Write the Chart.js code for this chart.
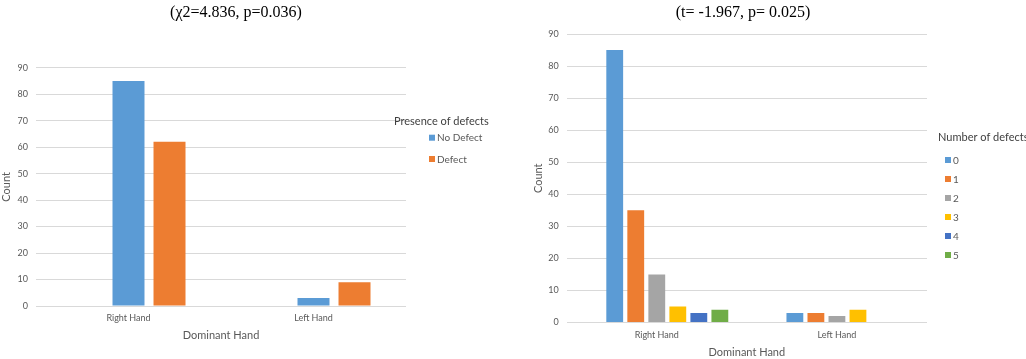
<!DOCTYPE html>
<html>
<head>
<meta charset="utf-8">
<script src="https://cdn.jsdelivr.net/npm/chart.js@4.4.0/dist/chart.umd.min.js"></script>
<style>
  body { margin: 0; background: #fff; }
  canvas { position: absolute; top: 0; }
  #left { left: 0; }
  #right { left: 520px; }
</style>
</head>
<body>
<canvas id="left" width="510" height="359"></canvas>
<canvas id="right" width="506" height="359"></canvas>
<script>
// shared categories
const hands = ['Right Hand', 'Left Hand'];

// left chart: presence of defects
const noDefect = [85, 3];
const withDefect = [62, 9];

// right chart: number of defects
const defects0 = [85, 3];
const defects1 = [35, 3];
const defects2 = [15, 2];
const defects3 = [5, 4];
const defects4 = [3, 0];
const defects5 = [4, 0];

const gray = '#595959';
const gridColor = '#D9D9D9';

// title + side legend, drawn on the canvas
const decor = {
  id: 'decor',
  afterDraw(chart, args, o) {
    const ctx = chart.ctx;
    ctx.save();
    ctx.textBaseline = 'middle';
    ctx.textAlign = 'center';
    ctx.fillStyle = '#000';
    ctx.font = '16px "Liberation Serif"';
    ctx.fillText(o.title, o.titleX, o.titleY);

    ctx.textAlign = 'left';
    ctx.fillStyle = '#404040';
    ctx.font = '11px Lato';
    ctx.fillText(o.legendTitle, o.legendX, o.legendY);
    let y = o.legendY + o.firstGap;
    chart.data.datasets.forEach(ds => {
      if (!ds.label) return;
      ctx.fillStyle = ds.backgroundColor;
      ctx.fillRect(o.legendX + o.indent, y - 3, 6, 6);
      ctx.fillStyle = gray;
      ctx.font = '10px Lato';
      ctx.fillText(ds.label, o.legendX + o.indent + 8, y + 0.5);
      y += o.step;
    });
    ctx.restore();
  }
};

function scales(yWidth, xHeight, countPad, handPad) {
  return {
    x: {
      grid: { display: false, drawTicks: false },
      border: { display: false },
      ticks: { color: gray, font: { family: 'Lato', size: 9 }, padding: 7 },
      title: { display: true, text: 'Dominant Hand', color: gray,
               font: { family: 'Lato', size: 11 }, padding: { top: 0, bottom: handPad } },
      afterFit: s => { s.height = xHeight; }
    },
    y: {
      min: 0, max: 90,
      ticks: { stepSize: 10, color: gray, font: { family: 'Lato', size: 9 }, padding: 8 },
      grid: { color: gridColor, drawTicks: false },
      border: { display: false },
      title: { display: true, text: 'Count', color: gray,
               font: { family: 'Lato', size: 11 }, padding: { top: countPad, bottom: 0 } },
      afterFit: s => { s.width = yWidth; }
    }
  };
}

new Chart(document.getElementById('left').getContext('2d'), {
  type: 'bar',
  data: {
    labels: hands,
    datasets: [
      { label: '', data: [null, null] },
      { label: 'No Defect', data: noDefect, backgroundColor: '#5B9BD5' },
      { label: 'Defect', data: withDefect, backgroundColor: '#ED7D31' }
    ]
  },
  options: {
    responsive: false,
    animation: false,
    categoryPercentage: 0.665,
    barPercentage: 0.78,
    layout: { padding: { top: 67.7, right: 104, left: 0, bottom: 0 } },
    scales: scales(36, 53, 0, 16.7),
    plugins: {
      legend: { display: false },
      tooltip: { enabled: false },
      decor: {
        title: '(\u03c72=4.836, p=0.036)', titleX: 236, titleY: 12.5,
        legendTitle: 'Presence of defects', legendX: 394, legendY: 121,
        indent: 35, firstGap: 16.7, step: 21.3
      }
    }
  },
  plugins: [decor]
});

new Chart(document.getElementById('right').getContext('2d'), {
  type: 'bar',
  data: {
    labels: hands,
    datasets: [
      { label: '', data: [null, null] },
      { label: '0', data: defects0, backgroundColor: '#5B9BD5' },
      { label: '1', data: defects1, backgroundColor: '#ED7D31' },
      { label: '2', data: defects2, backgroundColor: '#A5A5A5' },
      { label: '3', data: defects3, backgroundColor: '#FFC000' },
      { label: '4', data: defects4, backgroundColor: '#4472C4' },
      { label: '5', data: defects5, backgroundColor: '#70AD47' }
    ]
  },
  options: {
    responsive: false,
    animation: false,
    categoryPercentage: 0.817,
    barPercentage: 0.8,
    layout: { padding: { top: 34, right: 99, left: 0, bottom: 0 } },
    scales: scales(46.7, 36.5, 11.4, 0.4),
    plugins: {
      legend: { display: false },
      tooltip: { enabled: false },
      decor: {
        title: '(t= -1.967, p= 0.025)', titleX: 223, titleY: 13,
        legendTitle: 'Number of defects', legendX: 418, legendY: 137,
        indent: 7, firstGap: 23, step: 19
      }
    }
  },
  plugins: [decor]
});
</script>
</body>
</html>
